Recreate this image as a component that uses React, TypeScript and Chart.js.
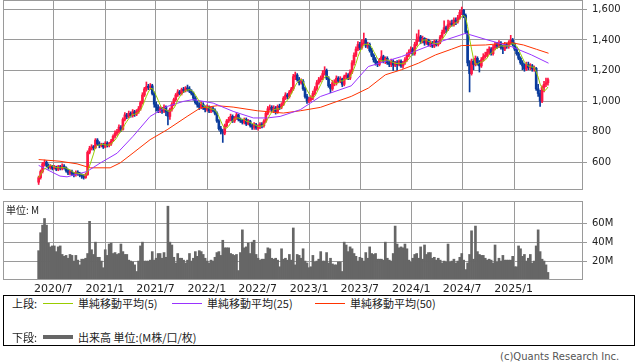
import React, { useEffect, useRef } from "react";
import { Chart, registerables } from "chart.js";

Chart.register(...registerables);

// ---------- data ----------
const xTickLabels = ["2020/7", "2021/1", "2021/7", "2022/1", "2022/7", "2023/1", "2023/7", "2024/1", "2024/7", "2025/1"];
const priceTicks = [600, 800, 1000, 1200, 1400, 1600];
const volumeTicks = [20, 40, 60];
const FIRST_CANDLE_WEEK = -7.5; // weeks from 2020/7/1 of the first weekly candle

const opens = [
  470, 500, 540, 590, 600, 580, 565, 575, 560, 570,
  555, 570, 560, 575, 565, 545, 530, 540, 525, 520,
  535, 525, 515, 510, 500, 520, 665, 690, 700, 695,
  745, 720, 710, 715, 700, 725, 710, 720, 740, 770,
  790, 800, 830, 815, 880, 910, 900, 920, 905, 930,
  915, 930, 950, 990, 1040, 1080, 1095, 1090, 1100, 1050,
  980, 960, 940, 950, 935, 960, 930, 900, 945, 980,
  1010, 1040, 1060, 1050, 1075, 1070, 1085, 1080, 1065, 1050,
  1020, 990, 975, 960, 980, 955, 945, 960, 935, 950,
  940, 920, 870, 820, 800, 790, 840, 870, 880, 900,
  870, 890, 910, 880, 870, 860, 880, 850, 870, 840,
  830, 845, 825, 830, 850, 840, 870, 920, 950, 960,
  940, 955, 930, 965, 960, 980, 1020, 1040, 1030, 1060,
  1080, 1160, 1170, 1140, 1120, 1130, 1080, 1030, 1000, 1010,
  1020, 1050, 1080, 1120, 1140, 1150, 1180, 1200, 1150, 1100,
  1080, 1120, 1120, 1150, 1130, 1145, 1110, 1160, 1170, 1150,
  1190, 1250, 1300, 1340, 1370, 1350, 1380, 1400, 1360, 1370,
  1330, 1300, 1270, 1250, 1240, 1270, 1290, 1260, 1280, 1250,
  1240, 1260, 1235, 1250, 1240, 1260, 1230, 1250, 1270, 1300,
  1320, 1340, 1310, 1370, 1400, 1420, 1390, 1410, 1380, 1400,
  1370, 1380, 1360, 1390, 1370, 1385, 1420, 1450, 1480, 1470,
  1500, 1510, 1500, 1530, 1520, 1545, 1580, 1595, 1560, 1450,
  1250, 1180, 1260, 1240, 1280, 1250, 1230, 1270, 1290, 1300,
  1320, 1340, 1310, 1350, 1370, 1360, 1380, 1350, 1340, 1370,
  1360, 1380, 1400, 1370, 1340, 1310, 1280, 1250, 1230, 1210,
  1240, 1220, 1230, 1210, 1215, 1080, 1050, 1000, 1090, 1110, 1120,
];

const highs = [
  510, 550, 600, 615, 610, 590, 585, 580, 580, 575,
  580, 580, 590, 585, 570, 555, 550, 550, 535, 545,
  545, 535, 525, 520, 530, 675, 705, 715, 710, 755,
  755, 735, 725, 725, 735, 735, 730, 750, 780, 805,
  815, 845, 840, 890, 925, 920, 935, 930, 945, 940,
  945, 965, 1000, 1055, 1090, 1125, 1110, 1115, 1110, 1060,
  995, 975, 965, 960, 975, 970, 940, 955, 990, 1020,
  1050, 1075, 1070, 1085, 1090, 1095, 1105, 1095, 1075, 1060,
  1030, 1000, 990, 995, 990, 970, 975, 970, 960, 965,
  950, 930, 880, 835, 815, 850, 880, 895, 915, 910,
  900, 925, 915, 890, 880, 890, 890, 880, 875, 850,
  860, 855, 845, 860, 860, 880, 930, 965, 975, 970,
  970, 965, 975, 980, 990, 1030, 1055, 1050, 1070, 1090,
  1175, 1190, 1180, 1155, 1145, 1140, 1090, 1045, 1025, 1035,
  1065, 1095, 1135, 1155, 1165, 1200, 1225, 1210, 1160, 1110,
  1135, 1140, 1165, 1160, 1160, 1150, 1170, 1185, 1180, 1205,
  1265, 1315, 1355, 1390, 1385, 1400, 1445, 1410, 1385, 1380,
  1345, 1310, 1285, 1260, 1280, 1330, 1300, 1290, 1290, 1260,
  1275, 1270, 1260, 1265, 1270, 1270, 1260, 1285, 1315, 1335,
  1355, 1350, 1385, 1440, 1465, 1430, 1425, 1415, 1410, 1405,
  1395, 1390, 1400, 1400, 1395, 1430, 1465, 1525, 1490, 1530,
  1525, 1530, 1545, 1545, 1560, 1595, 1615, 1600, 1570, 1460,
  1265, 1275, 1275, 1295, 1290, 1265, 1285, 1310, 1320, 1340,
  1355, 1350, 1365, 1385, 1385, 1395, 1390, 1365, 1385, 1380,
  1395, 1430, 1410, 1380, 1350, 1320, 1290, 1265, 1245, 1255,
  1255, 1245, 1240, 1230, 1220, 1110, 1070, 1100, 1130, 1150, 1150,
];

const lows = [
  455, 490, 530, 575, 570, 555, 555, 550, 555, 545,
  545, 550, 550, 555, 535, 520, 520, 515, 505, 510,
  515, 505, 495, 490, 495, 515, 655, 680, 680, 690,
  710, 695, 700, 690, 695, 700, 700, 710, 735, 760,
  775, 790, 800, 810, 870, 885, 890, 895, 895, 900,
  905, 920, 940, 980, 1030, 1065, 1075, 1075, 1040, 960,
  935, 925, 925, 920, 925, 905, 845, 880, 935, 970,
  1000, 1030, 1040, 1040, 1055, 1060, 1065, 1055, 1040, 1005,
  980, 960, 945, 950, 945, 930, 935, 925, 925, 930,
  910, 860, 810, 785, 730, 780, 830, 860, 870, 860,
  860, 880, 870, 860, 850, 850, 840, 845, 830, 815,
  815, 815, 810, 820, 825, 830, 860, 910, 940, 930,
  925, 915, 920, 945, 950, 970, 1010, 1015, 1020, 1050,
  1070, 1140, 1130, 1105, 1110, 1070, 1020, 985, 990, 1000,
  1010, 1040, 1070, 1110, 1125, 1140, 1170, 1140, 1090, 1055,
  1070, 1100, 1105, 1120, 1120, 1095, 1100, 1145, 1140, 1140,
  1180, 1235, 1290, 1330, 1335, 1340, 1370, 1350, 1345, 1320,
  1290, 1255, 1235, 1225, 1230, 1260, 1250, 1245, 1240, 1225,
  1225, 1200, 1225, 1200, 1230, 1220, 1215, 1240, 1260, 1290,
  1310, 1300, 1300, 1360, 1390, 1375, 1380, 1365, 1370, 1360,
  1355, 1350, 1350, 1360, 1360, 1375, 1410, 1440, 1445, 1460,
  1485, 1490, 1490, 1500, 1510, 1535, 1565, 1545, 1440, 1230,
  1060, 1170, 1205, 1230, 1235, 1190, 1220, 1260, 1280, 1290,
  1305, 1300, 1300, 1335, 1345, 1350, 1340, 1310, 1330, 1345,
  1345, 1370, 1360, 1330, 1300, 1270, 1240, 1205, 1195, 1200,
  1205, 1205, 1195, 1195, 1070, 1030, 965, 990, 1060, 1095, 1105,
];

const closes = [
  500, 540, 590, 600, 580, 565, 575, 560, 570, 555,
  570, 560, 575, 565, 545, 530, 540, 525, 520, 535,
  525, 515, 510, 500, 520, 665, 690, 700, 695, 745,
  720, 710, 715, 700, 725, 710, 720, 740, 770, 790,
  800, 830, 815, 880, 910, 900, 920, 905, 930, 915,
  930, 950, 990, 1040, 1080, 1095, 1090, 1100, 1050, 980,
  960, 940, 950, 935, 960, 930, 900, 945, 980, 1010,
  1040, 1060, 1050, 1075, 1070, 1085, 1080, 1065, 1050, 1020,
  990, 975, 960, 980, 955, 945, 960, 935, 950, 940,
  920, 870, 820, 800, 790, 840, 870, 880, 900, 870,
  890, 910, 880, 870, 860, 880, 850, 870, 840, 830,
  845, 825, 830, 850, 840, 870, 920, 950, 960, 940,
  955, 930, 965, 960, 980, 1020, 1040, 1030, 1060, 1080,
  1160, 1170, 1140, 1120, 1130, 1080, 1030, 1000, 1010, 1020,
  1050, 1080, 1120, 1140, 1150, 1180, 1200, 1150, 1100, 1080,
  1120, 1120, 1150, 1130, 1145, 1110, 1160, 1170, 1150, 1190,
  1250, 1300, 1340, 1370, 1350, 1380, 1400, 1360, 1370, 1330,
  1300, 1270, 1250, 1240, 1270, 1290, 1260, 1280, 1250, 1240,
  1260, 1235, 1250, 1240, 1260, 1230, 1250, 1270, 1300, 1320,
  1340, 1310, 1370, 1400, 1420, 1390, 1410, 1380, 1400, 1370,
  1380, 1360, 1390, 1370, 1385, 1420, 1450, 1480, 1470, 1500,
  1510, 1500, 1530, 1520, 1545, 1580, 1595, 1560, 1450, 1250,
  1180, 1260, 1240, 1280, 1250, 1230, 1270, 1290, 1300, 1320,
  1340, 1310, 1350, 1370, 1360, 1380, 1350, 1340, 1370, 1360,
  1380, 1400, 1370, 1340, 1310, 1280, 1250, 1230, 1210, 1240,
  1220, 1230, 1210, 1215, 1080, 1050, 1000, 1090, 1110, 1120, 1140,
];

// weekly volume, millions
const volumes = [
  31, 50, 58, 65, 58, 39, 35, 36, 36, 30,
  35, 36, 27, 25, 26, 23, 27, 26, 20, 26,
  21, 16, 22, 22, 23, 28, 62, 32, 27, 40,
  24, 24, 20, 13, 32, 26, 38, 39, 28, 29,
  27, 28, 38, 30, 27, 27, 21, 20, 19, 16,
  9, 20, 36, 40, 20, 20, 20, 21, 30, 21,
  23, 28, 28, 23, 29, 24, 78, 40, 37, 24,
  18, 28, 23, 23, 21, 18, 21, 28, 20, 23,
  30, 25, 31, 30, 27, 23, 20, 18, 21, 20,
  24, 29, 30, 26, 42, 34, 34, 34, 28, 27,
  26, 27, 10, 29, 53, 34, 35, 39, 28, 40,
  42, 27, 23, 21, 22, 22, 28, 34, 33, 23,
  22, 23, 21, 14, 33, 22, 23, 21, 27, 21,
  55, 16, 27, 26, 23, 33, 20, 18, 13, 14,
  26, 19, 20, 22, 30, 20, 20, 29, 18, 23,
  17, 16, 16, 19, 19, 9, 40, 37, 30, 35,
  33, 28, 25, 20, 24, 23, 20, 29, 23, 35,
  28, 27, 28, 22, 22, 22, 21, 40, 23, 21,
  20, 28, 57, 38, 34, 35, 34, 38, 33, 21,
  19, 23, 27, 28, 23, 35, 22, 37, 27, 29,
  29, 23, 24, 21, 23, 21, 18, 20, 19, 38,
  19, 20, 22, 18, 20, 24, 28, 21, 11, 18,
  27, 52, 22, 57, 30, 27, 26, 26, 23, 21,
  22, 21, 18, 37, 19, 23, 20, 26, 21, 21,
  21, 21, 25, 14, 14, 36, 33, 25, 27, 20,
  23, 27, 18, 20, 36, 53, 30, 22, 20, 16, 8,
];

// moving averages: [candle index, price]
const ma25Points: [number, number][] = [
  [0, 580], [10.9, 510], [14.5, 505], [24.7, 540], [31.4, 595], [40.1, 660], [48.2, 770],
  [56.9, 900], [65.6, 965], [73.8, 998], [78.9, 1010], [89.1, 987], [99.3, 933], [109.6, 890],
  [116.7, 890], [123.3, 900], [133.6, 944], [143.8, 1030], [159.6, 1100], [168.3, 1226],
  [185.2, 1291], [202.6, 1378], [217.9, 1443], [228.1, 1404], [241.4, 1356], [251.6, 1302], [260.3, 1248],
];
const ma50Points: [number, number][] = [
  [0, 618], [10.9, 607], [19.6, 590], [26.3, 564], [36.5, 564], [41.6, 596], [48.2, 661],
  [56.9, 748], [65.6, 813], [75.8, 900], [82.5, 955], [91.2, 970], [99.3, 961], [111.6, 937],
  [124.9, 922], [133.6, 937], [143.8, 959], [159.6, 1031], [168.3, 1085], [177, 1172],
  [185.2, 1205], [193.9, 1248], [202.6, 1302], [210.7, 1339], [215.8, 1363], [228.1, 1367],
  [241.4, 1382], [247.5, 1367], [254.1, 1339], [260.3, 1313],
];

// ---------- styling ----------
const UP = "#ff1744";
const DOWN = "#0a3b9c";
const MA5_COLOR = "#99cc00";
const MA25_COLOR = "#9933ff";
const MA50_COLOR = "#ff3300";
const VOL_COLOR = "#666666";
const GRID = "#9a9a9a";
const X_MIN = -25.7;
const X_MAX = 270.4;

const weekOfLabel = (label: string) => {
  const [y, m] = label.split("/").map(Number);
  return (Date.UTC(y, m - 1, 1) - Date.UTC(2020, 6, 1)) / (7 * 86400000);
};
const xTickWeeks = xTickLabels.map(weekOfLabel);
const weekOf = (i: number) => FIRST_CANDLE_WEEK + i;

const ma5 = closes.map((_, i) => {
  const s = closes.slice(Math.max(0, i - 4), i + 1);
  return s.reduce((a, b) => a + b, 0) / s.length;
});

// frame + vertical (date) grid lines, placed through the x scale
const framePlugin = {
  id: "frame",
  beforeDatasetsDraw(chart: any) {
    const { ctx, chartArea, scales } = chart;
    const t = Math.round(chartArea.top), b = Math.round(chartArea.bottom);
    ctx.save();
    ctx.strokeStyle = GRID;
    ctx.lineWidth = 1;
    ctx.beginPath();
    xTickWeeks.forEach((w) => {
      const px = Math.round(scales.x.getPixelForValue(w)) + 0.5;
      ctx.moveTo(px, t);
      ctx.lineTo(px, b);
    });
    ctx.stroke();
    ctx.restore();
  },
  afterDraw(chart: any) {
    const { ctx, chartArea } = chart;
    const l = Math.round(chartArea.left), t = Math.round(chartArea.top);
    const r = Math.round(chartArea.right), b = Math.round(chartArea.bottom);
    ctx.save();
    ctx.strokeStyle = GRID;
    ctx.lineWidth = 1;
    ctx.strokeRect(l + 0.5, t + 0.5, r - l - 1, b - t - 1);
    ctx.restore();
  },
};

const AXIS_FONT = "'DejaVu Sans', sans-serif";

const noPad = (s: any) => {
  s.paddingTop = 0;
  s.paddingBottom = 0;
  s.paddingLeft = 0;
  s.paddingRight = 0;
};

export default function App() {
  const topRef = useRef<HTMLCanvasElement>(null);
  const volRef = useRef<HTMLCanvasElement>(null);

  useEffect(() => {
    const candleColors = closes.map((c, i) => (c >= opens[i] ? UP : DOWN));
    const xScaleBase = () => ({
      type: "linear" as const,
      min: X_MIN,
      max: X_MAX,
      offset: false,
      afterBuildTicks: (s: any) => {
        s.ticks = xTickWeeks.map((v) => ({ value: v }));
      },
      grid: { display: false, offset: false, drawTicks: false },
      border: { display: false },
    });

    const top = new Chart(topRef.current!, {
      type: "bar",
      data: {
        datasets: [
          {
            type: "line",
            data: ma5.map((v, i) => ({ x: weekOf(i), y: v })),
            borderColor: MA5_COLOR,
            borderWidth: 1,
            pointRadius: 0,
            order: 0,
          } as any,
          {
            type: "line",
            data: ma25Points.map(([i, v]) => ({ x: weekOf(i), y: v })),
            borderColor: MA25_COLOR,
            borderWidth: 1,
            pointRadius: 0,
            order: 1,
          },
          {
            type: "line",
            data: ma50Points.map(([i, v]) => ({ x: weekOf(i), y: v })),
            borderColor: MA50_COLOR,
            borderWidth: 1,
            pointRadius: 0,
            order: 2,
          },
          {
            type: "bar",
            data: closes.map((c, i) => ({ x: weekOf(i), y: [opens[i], c] })),
            backgroundColor: candleColors,
            barThickness: 2,
            grouped: false,
            minBarLength: 1,
            order: 3,
          },
          {
            type: "bar",
            data: closes.map((_, i) => ({ x: weekOf(i), y: [lows[i], highs[i]] })),
            backgroundColor: candleColors,
            barThickness: 1,
            grouped: false,
            order: 4,
          },
        ],
      },
      options: {
        animation: false,
        responsive: false,
        devicePixelRatio: 1,
        events: [],
        layout: { padding: { left: 3, right: 0, top: 0, bottom: 1 } },
        plugins: { legend: { display: false }, tooltip: { enabled: false } },
        scales: {
          x: {
            ...xScaleBase(),
            ticks: { display: false, autoSkip: false },
            afterFit: (s: any) => {
              s.height = 0;
              noPad(s);
            },
          },
          y: {
            type: "linear",
            position: "right",
            min: 419,
            max: 1661,
            afterBuildTicks: (s: any) => {
              s.ticks = priceTicks.map((v) => ({ value: v }));
            },
            afterFit: (s: any) => {
              s.width = 55;
              noPad(s);
            },
            grid: { color: GRID, lineWidth: 1, tickLength: 4 },
            border: { display: false },
            ticks: {
              padding: 5,
              color: "#222",
              font: { family: AXIS_FONT, size: 10 },
              callback: (v: any) => Number(v).toLocaleString("en-US"),
            },
          },
        },
      } as any,
      plugins: [framePlugin],
    });

    const vol = new Chart(volRef.current!, {
      type: "bar",
      data: {
        datasets: [
          {
            data: volumes.map((v, i) => ({ x: weekOf(i), y: v })),
            backgroundColor: VOL_COLOR,
            barThickness: 2,
            grouped: false,
          } as any,
        ],
      },
      options: {
        animation: false,
        responsive: false,
        devicePixelRatio: 1,
        events: [],
        layout: { padding: { left: 3, right: 0, top: 1, bottom: 0 } },
        plugins: { legend: { display: false }, tooltip: { enabled: false } },
        scales: {
          x: {
            ...xScaleBase(),
            ticks: {
              autoSkip: false,
              maxRotation: 0,
              padding: 3,
              color: "#222",
              font: { family: AXIS_FONT, size: 11 },
              callback: (_v: any, idx: number) => xTickLabels[idx],
            },
            afterFit: (s: any) => {
              s.height = 15;
              noPad(s);
            },
          },
          y: {
            type: "linear",
            position: "right",
            min: 0,
            max: 83.5,
            afterBuildTicks: (s: any) => {
              s.ticks = volumeTicks.map((v) => ({ value: v }));
            },
            afterFit: (s: any) => {
              s.width = 55;
              noPad(s);
            },
            grid: { color: GRID, lineWidth: 1, tickLength: 4 },
            border: { display: false },
            ticks: {
              padding: 5,
              color: "#222",
              font: { family: AXIS_FONT, size: 10 },
              callback: (v: any) => `${v}M`,
            },
          },
        },
      } as any,
      plugins: [framePlugin],
    });

    return () => {
      top.destroy();
      vol.destroy();
    };
  }, []);

  const jp = "'Noto Sans CJK JP', sans-serif";
  const txt = (left: number, centerY: number, s: string, extra: any = {}) => (
    <span
      style={{
        position: "absolute",
        left,
        top: centerY - 7,
        height: 14,
        lineHeight: "14px",
        fontFamily: jp,
        fontSize: 11,
        color: "#222",
        whiteSpace: "nowrap",
        ...extra,
      }}
    >
      {s}
    </span>
  );
  const swatch = (left: number, centerY: number, color: string, h: number) => (
    <div
      style={{
        position: "absolute",
        left,
        top: centerY - h / 2,
        width: 30,
        height: h,
        background: color,
      }}
    />
  );

  return (
    <div
      style={{
        position: "absolute",
        left: 0,
        top: 0,
        width: 638,
        height: 362,
        background: "#fff",
        overflow: "hidden",
      }}
    >
      <canvas
        ref={topRef}
        width={638}
        height={191}
        style={{ position: "absolute", left: 0, top: 0, width: 638, height: 191 }}
      />
      <canvas
        ref={volRef}
        width={638}
        height={95}
        style={{ position: "absolute", left: 0, top: 200, width: 638, height: 95 }}
      />
      {txt(6, 210, "単位: M", { fontSize: 10 })}
      <div
        style={{
          position: "absolute",
          left: 3,
          top: 295,
          width: 630,
          height: 49,
          border: "1px solid #000",
        }}
      />
      {txt(12, 303, "上段:")}
      {swatch(43, 303, MA5_COLOR, 1)}
      {txt(78, 303, "単純移動平均(5)")}
      {swatch(172, 303, MA25_COLOR, 1)}
      {txt(207, 303, "単純移動平均(25)")}
      {swatch(315, 303, MA50_COLOR, 1)}
      {txt(350, 303, "単純移動平均(50)")}
      {txt(12, 337, "下段:")}
      {swatch(43, 337, VOL_COLOR, 4)}
      {txt(78, 337, "出来高 単位:(M株/口/枚)")}
      <span
        style={{
          position: "absolute",
          left: 500,
          top: 351,
          lineHeight: "12px",
          fontFamily: AXIS_FONT,
          fontSize: 10,
          color: "#555",
          whiteSpace: "nowrap",
        }}
      >
        (c)Quants Research Inc.
      </span>
    </div>
  );
}
